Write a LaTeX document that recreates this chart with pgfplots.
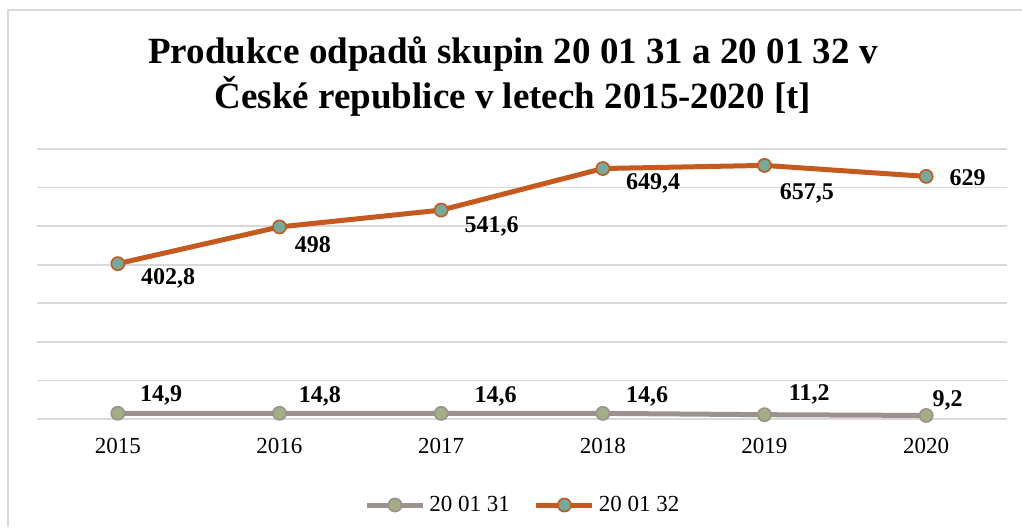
\documentclass[border=0pt]{standalone}
\usepackage{pgfplots}
\pgfplotsset{compat=1.18}
\usepackage{fontspec}
\setmainfont{Liberation Serif}
\definecolor{gridc}{HTML}{D9D9D9}
\definecolor{sOneLine}{HTML}{9B918E}
\definecolor{sOneFill}{HTML}{A5AE82}
\definecolor{sTwoLine}{HTML}{C55A1E}
\definecolor{sTwoFill}{HTML}{75A99C}
\newcommand{\lbl}[5]{\node[anchor=west,inner sep=0pt,font=\bfseries\fontsize{12}{14}\selectfont] at (axis cs:#1,#2) [xshift=#3pt,yshift=#4pt] {#5};}
\begin{document}
\begin{tikzpicture}
\useasboundingbox (0,0) rectangle (511pt,263.5pt);
\draw[gridc, line width=1pt] (4pt,0) -- (4pt,258.5pt) -- (511pt,258.5pt);
\node[font=\bfseries\fontsize{18.5}{21}\selectfont, anchor=base, inner sep=0pt] at (256.5pt,232pt) {Produkce odpadů skupin 20 01 31 a 20 01 32 v};
\node[font=\bfseries\fontsize{18.5}{21}\selectfont, anchor=base, inner sep=0pt] at (256.5pt,209.5pt) {České republice v letech 2015-2020 [t]};
\begin{axis}[
  at={(18.5pt,54pt)}, anchor=south west, scale only axis,
  width=485pt, height=135pt,
  xmin=-0.5, xmax=5.5, ymin=0, ymax=700,
  ytick={0,100,...,700}, yticklabels={},
  ymajorgrids, grid style={gridc, line width=0.9pt},
  axis line style={draw=none}, major tick length=0,
  xtick={0,1,2,3,4,5}, xticklabels={2015,2016,2017,2018,2019,2020},
  xticklabel style={font=\fontsize{11.5}{13}\selectfont, yshift=-6pt},
  clip=false,
  legend columns=2,
  legend style={draw=none, fill=none, at={(0.502,-0.3185)}, anchor=center,
    font=\fontsize{11.5}{13}\selectfont,
    /tikz/every even column/.append style={column sep=10pt}},
  legend image code/.code={\draw[#1,mark repeat=2,mark phase=2] plot coordinates {(0pt,0pt) (14pt,0pt) (28pt,0pt)};},
]
\addplot[sOneLine, line width=2.5pt, mark=*, mark size=3.3pt, mark options={fill=sOneFill, draw=sOneLine, line width=0.8pt}]
  coordinates {(0,14.9)(1,14.8)(2,14.6)(3,14.6)(4,11.2)(5,9.2)};
\addlegendentry{20 01 31}
\addplot[sTwoLine, line width=2.5pt, mark=*, mark size=3.3pt, mark options={fill=sTwoFill, draw=sTwoLine, line width=0.8pt}]
  coordinates {(0,402.8)(1,498)(2,541.6)(3,649.4)(4,657.5)(5,629)};
\addlegendentry{20 01 32}
\lbl{0}{14.9}{11}{9}{14,9}
\lbl{1}{14.8}{9.5}{8.5}{14,8}
\lbl{2}{14.6}{16.5}{8.5}{14,6}
\lbl{3}{14.6}{11.5}{8.5}{14,6}
\lbl{4}{11.2}{12}{10}{11,2}
\lbl{5}{9.2}{3}{7.5}{9,2}
\lbl{0}{402.8}{11.5}{-7.5}{402,8}
\lbl{1}{498}{7.5}{-9}{498}
\lbl{2}{541.6}{11.5}{-8}{541,6}
\lbl{3}{649.4}{11.5}{-7.5}{649,4}
\lbl{4}{657.5}{7.5}{-14}{657,5}
\lbl{5}{629}{11.5}{-0.5}{629}
\end{axis}
\end{tikzpicture}
\end{document}
